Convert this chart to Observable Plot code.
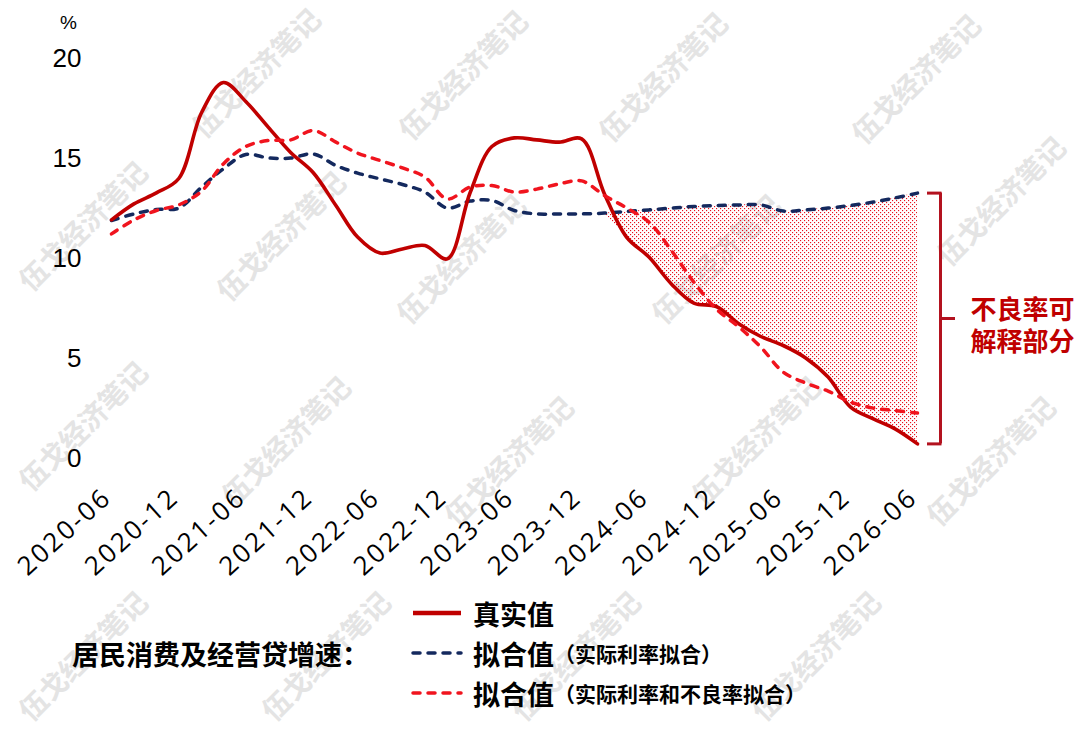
<!DOCTYPE html>
<html><head><meta charset="utf-8">
<script src="https://cdn.jsdelivr.net/npm/d3@7"></script>
<script src="https://cdn.jsdelivr.net/npm/@observablehq/plot@0.6"></script>
<style>
html,body{margin:0;padding:0;background:#fff;width:1079px;height:733px;overflow:hidden;}
#wrap{position:relative;width:1079px;height:733px;}
.wm{position:absolute;font-family:"Noto Sans CJK SC";font-size:28px;font-weight:700;color:#e4e4e4;white-space:nowrap;transform:translate(-50%,-50%) rotate(-45deg);z-index:0;}
#chart{position:absolute;left:0;top:0;z-index:1;}
#chart g[aria-label="x-axis tick label"] text{letter-spacing:2.5px;}
.pct{position:absolute;left:60px;top:12px;font-family:"Liberation Sans";font-size:19px;z-index:2;}
.lg{position:absolute;display:flex;align-items:center;height:34px;font-family:"Noto Sans CJK SC";font-weight:700;font-size:27px;color:#000;z-index:2;white-space:nowrap;}
.lg svg{margin-right:10px;}
.lg small{font-size:21px;font-weight:700;}
</style></head>
<body><div id="wrap"></div>
<script>
// ---- data ----
const months = ["2020-06","2020-08","2020-10","2020-12","2021-02","2021-04","2021-06","2021-08","2021-10","2021-12",
  "2022-02","2022-04","2022-06","2022-08","2022-10","2022-12","2023-02","2023-04","2023-06","2023-08","2023-10","2023-12",
  "2024-02","2024-04","2024-06","2024-08","2024-10","2024-12","2025-02","2025-04","2025-06","2025-08","2025-10","2025-12",
  "2026-02","2026-04","2026-06"];
const realValues = [11.93,12.73,13.28,14.0,17.3,18.8,17.85,16.57,15.3,14.3,12.65,11.07,10.27,10.48,10.65,9.98,13.3,15.6,16.03,15.93,15.82,15.98,13.23,11.07,10.07,8.73,7.77,7.6,6.73,6.1,5.65,5.03,4.07,2.57,1.98,1.48,0.73];
const fitRateValues = [11.9,12.23,12.45,12.52,13.57,14.48,15.2,15.03,15.02,15.23,14.65,14.27,13.98,13.7,13.32,12.52,12.87,12.9,12.4,12.23,12.23,12.23,12.27,12.35,12.43,12.52,12.6,12.65,12.68,12.68,12.37,12.43,12.52,12.65,12.82,13.03,13.27];
const fitRateNplValues = [11.23,11.93,12.4,12.68,13.37,14.73,15.6,15.9,15.93,16.4,15.82,15.27,14.9,14.53,14.07,12.98,13.57,13.65,13.32,13.47,13.73,13.88,13.15,12.53,11.82,10.4,8.82,7.48,6.57,5.57,4.32,3.77,3.37,2.82,2.52,2.4,2.27];
const tickLabels = ["2020-06","2020-12","2021-06","2021-12","2022-06","2022-12","2023-06","2023-12","2024-06","2024-12","2025-06","2025-12","2026-06"];
const yTicks = [0,5,10,15,20];
const shadeFrom = "2024-02";
const seriesNames = ["真实值","拟合值","拟合值"];
const seriesNotes = ["","（实际利率拟合）","（实际利率和不良率拟合）"];
const legendTitle = "居民消费及经营贷增速：";
const annotationLines = ["不良率可","解释部分"];
const watermark = "伍戈经济笔记";

const parse = d3.utcParse("%Y-%m");
const data = months.map((m,i)=>({date:parse(m), real:realValues[i], blue:fitRateValues[i], red:fitRateNplValues[i]}));
const shadeStart = parse(shadeFrom);
const shade = data.filter(d=>d.date>=shadeStart).map(d=>({date:d.date, lo:Math.min(d.real,d.blue), hi:d.blue}));
const last = data[data.length-1];

const C_REAL="#c00000", C_BLUE="#14295e", C_RED="#f0141e", C_BR="#b3121f";
const annText = {x:"date", y:d=>(d.real+d.blue)/2, dx:53, textAnchor:"start", fontSize:26, fontWeight:"bold", fontFamily:"Noto Sans CJK SC", fill:C_REAL};

const plot = Plot.plot({
  width:1079, height:590,
  marginLeft:111, marginRight:162, marginTop:58, marginBottom:132,
  x:{type:"utc", domain:[parse(tickLabels[0]), parse(tickLabels[tickLabels.length-1])]},
  y:{domain:[0,20]},
  style:{background:"transparent", overflow:"visible"},
  marks:[
    Plot.axisY({ticks:yTicks, tickSize:0, tickPadding:30, fontSize:26, fontFamily:"Liberation Sans", label:null}),
    Plot.axisX({ticks:tickLabels.map(parse), tickFormat:d3.utcFormat("%Y-%m"), tickRotate:-42, tickSize:0, tickPadding:35, dx:-4,
      fontSize:26, fontFamily:"Open Sans", fontWeight:500, label:null}),
    Plot.areaY(shade, {x:"date", y1:"lo", y2:"hi", fill:"url(#dots)", curve:"catmull-rom"}),
    Plot.lineY(data, {x:"date", y:"blue", stroke:C_BLUE, strokeWidth:3.5, strokeDasharray:"7,8", strokeLinecap:"round", curve:"catmull-rom"}),
    Plot.lineY(data, {x:"date", y:"real", stroke:C_REAL, strokeWidth:3.6, curve:"catmull-rom"}),
    Plot.lineY(data, {x:"date", y:"red", stroke:C_RED, strokeWidth:3.5, strokeDasharray:"7,8", strokeLinecap:"round", curve:"catmull-rom"}),
    // bracket
    Plot.ruleX([last], {x:"date", y1:"real", y2:"blue", dx:23, stroke:C_BR, strokeWidth:3}),
    Plot.ruleY([last], {x1:"date", x2:"date", y:"real", dx:10, insetRight:-14.5, stroke:C_BR, strokeWidth:3}),
    Plot.ruleY([last], {x1:"date", x2:"date", y:"blue", dx:10, insetRight:-14.5, stroke:C_BR, strokeWidth:3}),
    Plot.ruleY([last], {x1:"date", x2:"date", y:d=>(d.real+d.blue)/2, dx:23, insetRight:-15, stroke:C_BR, strokeWidth:3}),
    Plot.text([last], {...annText, text:()=>annotationLines[0], dy:-8}),
    Plot.text([last], {...annText, text:()=>annotationLines[1], dy:24})
  ]
});
plot.id = "chart";
const svg = d3.select(plot);
const defs = svg.insert("defs", ":first-child");
const pat = defs.append("pattern").attr("id","dots").attr("patternUnits","userSpaceOnUse").attr("width",4).attr("height",4);
pat.append("rect").attr("x",0).attr("y",0).attr("width",1.15).attr("height",1.15).attr("fill","#e8101e");
pat.append("rect").attr("x",2).attr("y",2).attr("width",1.15).attr("height",1.15).attr("fill","#e8101e");

const wrap = document.getElementById("wrap");
// watermarks
const wmPos = [[255,72],[462,74],[662,76],[915,78],[82,225],[280,235],[460,258],[715,258],[1000,200],
  [82,425],[285,440],[508,460],[755,440],[990,460],[82,655],[325,655],[575,655],[815,655]];
wmPos.forEach(([x,y])=>{const d=document.createElement("div");d.className="wm";d.textContent=watermark;d.style.left=x+"px";d.style.top=y+"px";wrap.appendChild(d);});
wrap.appendChild(plot);
const pct = document.createElement("div"); pct.className="pct"; pct.textContent="%"; wrap.appendChild(pct);

// legend
function sample(color, dashed){
  return `<svg width="52" height="10"><line x1="2" y1="5" x2="50" y2="5" stroke="${color}" stroke-width="${dashed?3.5:4.5}" ${dashed?'stroke-dasharray="7,8" stroke-linecap="round"':''}/></svg>`;
}
const rows = [[613,C_REAL,false],[653,C_BLUE,true],[693,C_RED,true]];
rows.forEach(([y,c,dash],i)=>{
  const d=document.createElement("div"); d.className="lg"; d.style.left="411px"; d.style.top=(y-17)+"px";
  d.innerHTML = sample(c,dash)+`<span>${seriesNames[i]}</span>`+(seriesNotes[i]?`<small>${seriesNotes[i]}</small>`:"");
  wrap.appendChild(d);
});
const t=document.createElement("div"); t.className="lg"; t.style.left="72px"; t.style.top=(653-17)+"px"; t.textContent=legendTitle; wrap.appendChild(t);
</script></body></html>
